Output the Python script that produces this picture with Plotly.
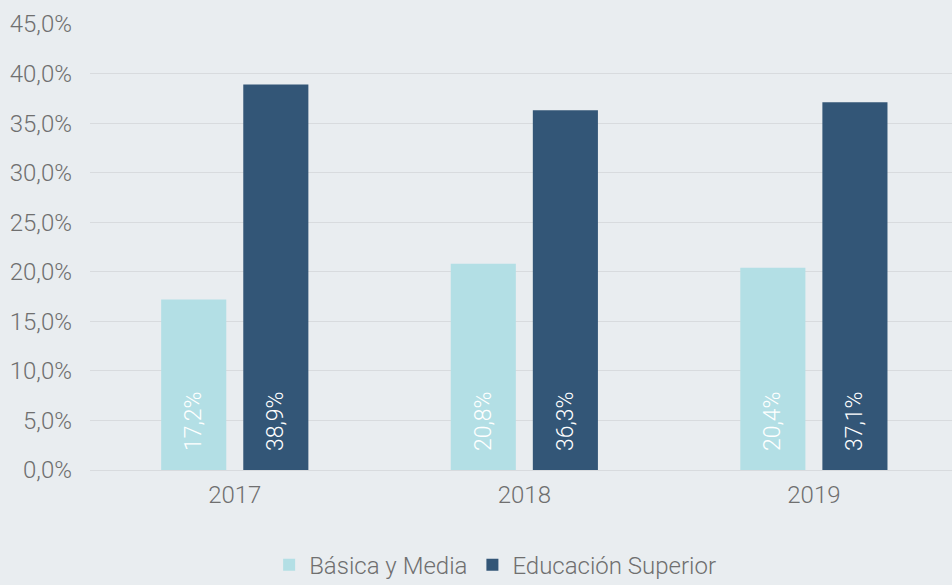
import plotly.graph_objects as go

years = ["2017", "2018", "2019"]
basica = [0.172, 0.208, 0.204]
superior = [0.389, 0.363, 0.371]
y_ticks = [0, 0.05, 0.10, 0.15, 0.20, 0.25, 0.30, 0.35, 0.40, 0.45]

FONT = "Roboto"
GRAY = "#6f6f6f"
LABEL = "\u00a0\u00a0\u2009%{y:.1%}"

fig = go.Figure()
fig.add_trace(go.Bar(
    x=years, y=basica, name="Básica y Media",
    marker=dict(color="#b3dfe5", line=dict(width=0)),
    texttemplate=LABEL, textposition="inside", insidetextanchor="start",
    textangle=-90, textfont=dict(color="white", size=23, family=FONT, weight=300),
    hoverinfo="skip",
))
fig.add_trace(go.Bar(
    x=years, y=superior, name="Educación Superior",
    marker=dict(color="#335677", line=dict(width=0)),
    texttemplate=LABEL, textposition="inside", insidetextanchor="start",
    textangle=-90, textfont=dict(color="white", size=23, family=FONT, weight=300),
    hoverinfo="skip",
))

fig.update_layout(
    width=952, height=585,
    margin=dict(l=90, r=0, t=24, b=115, autoexpand=False),
    paper_bgcolor="#e9edf0", plot_bgcolor="#e9edf0",
    separators=",.",
    barmode="group", bargap=0.433, bargroupgap=0.207,
    font=dict(family=FONT, size=24, color=GRAY, weight=300),
    showlegend=True,
    legend=dict(orientation="h", x=0.47, xanchor="center",
                yref="container", y=0.034, yanchor="middle",
                font=dict(size=24, color=GRAY, family=FONT, weight=300),
                itemwidth=30, tracegroupgap=0, bgcolor="rgba(0,0,0,0)"),
    uniformtext=dict(mode="show", minsize=22),
)
fig.update_yaxes(range=[0, 0.45], tickvals=y_ticks, tickformat=".1%",
                 gridcolor="#d8dbde", gridwidth=1, zeroline=True, zerolinecolor="#d8dbde",
                 zerolinewidth=1, showline=False, ticks="", ticklabelstandoff=17,
                 tickfont=dict(size=24, color=GRAY))
fig.update_xaxes(range=[-0.5, 2.477], showgrid=False, showline=False, ticks="",
                 ticklabelstandoff=8, tickfont=dict(size=24, color=GRAY))

fig.write_html("out.html", config={"displayModeBar": False},
               post_script="document.body.style.margin='0';document.body.style.background='#e9edf0';")
